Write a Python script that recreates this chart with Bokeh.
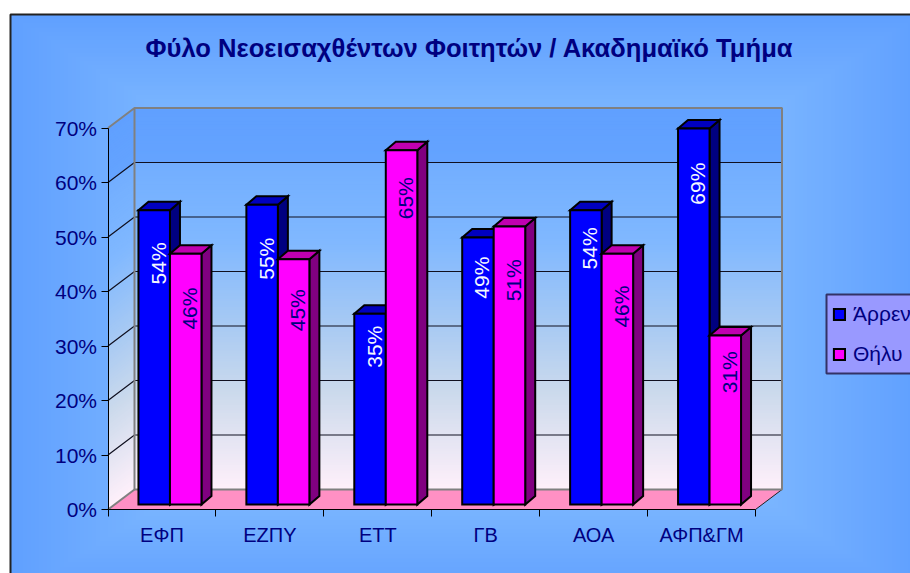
from bokeh.plotting import figure
from bokeh.embed import file_html
from bokeh.resources import INLINE
from bokeh.models import (LinearAxis, FixedTicker, PrintfTickFormatter, Range1d, Label,
                          Legend, LegendItem, ColumnDataSource)
from bokeh.core.properties import value
import numpy as np

# ---- data ----
categories = ["ΕΦΠ", "ΕΖΠΥ", "ΕΤΤ", "ΓΒ", "ΑΟΑ", "ΑΦΠ&ΓΜ"]
male = [54, 55, 35, 49, 54, 69]
female = [46, 45, 65, 51, 46, 31]
series_names = ["Άρρεν", "Θήλυ"]
title_text = "Φύλο Νεοεισαχθέντων Φοιτητών / Ακαδημαϊκό Τμήμα"
y_ticks = [0, 10, 20, 30, 40, 50, 60, 70]

# ---- layout ----
W, H = 910, 573
PAGE = 0
X0, Y0 = 107.5, 509.0          # picture px of the axes' origin
CW = (755 - 107.5) / 6         # px per category
VY = 54.5 / 10                 # px per percent
def dx(px): return px / CW
def dy(px): return px / VY
def X(px): return (px - X0) / CW
def Y(py): return (Y0 - py) / VY

WALL_DX, WALL_DY = dx(26.5), dy(20)
BAR_W = dx(31.5)
BAR_SHIFT_X, BAR_BASE = dx(8.0), dy(5)
BAR_DX, BAR_DY = dx(10), dy(8.5)
# the original's data labels sit irregularly on their bars: px offsets of each label
LABEL_NUDGE_M = [10, 10, 5, 1, -5, 0]
LABEL_NUDGE_F = [18, 15, -4, 13, 16, 12]
FONT = "Liberation Sans"
NAVY = "#000080"

p = figure(width=W, height=H, output_backend="svg", toolbar_location=None,
           x_range=Range1d(X(PAGE), X(PAGE + W)), y_range=Range1d(Y(PAGE + H), Y(PAGE)),
           x_axis_location=None, y_axis_location=None, min_border=0,
           outline_line_color=None, background_fill_color="white", border_fill_color="white")
p.xgrid.visible = False
p.ygrid.visible = False

# ---- panel gradient (rectangular, from the centre) ----
def lerp(stops, t):
    xs = [s[0] for s in stops]
    return [np.interp(t, xs, [s[1][k] for s in stops]) for k in range(3)]

nx, ny = 225, 140
yy, xx = np.mgrid[0:ny, 0:nx]
u = (xx + .5) / nx
v = (yy + .5) / ny
t = np.maximum(np.abs(u - .5) * 2, np.abs(v - .5) * 2)
t = np.clip((t - .6) / .4, 0, 1)
r = np.interp(t, [0, 1], [0x80, 0x60]); g = np.interp(t, [0, 1], [0xBA, 0xA0])
img = np.zeros((ny, nx), dtype=np.uint32)
view = img.view(dtype=np.uint8).reshape((ny, nx, 4))
view[..., 0] = r; view[..., 1] = g; view[..., 2] = 255; view[..., 3] = 255
px_l, px_t, px_r, px_b = 10, 14, 920, 600
p.image_rgba(image=[img], x=X(px_l), y=Y(px_b), dw=X(px_r) - X(px_l), dh=Y(px_t) - Y(px_b))
# panel border
p.line([X(px_l), X(px_l), X(px_r)], [Y(px_b), Y(px_t), Y(px_t)], line_color="#222222", line_width=2)

# ---- walls ----
stops = [(0, (0x60, 0xA0, 0xFF)), (.14, (0x64, 0xA3, 0xFF)), (.145, (0x72, 0xAE, 0xFF)),
         (.35, (0x80, 0xB8, 0xFF)), (.55, (0xA4, 0xC8, 0xF4)),
         (.75, (0xCC, 0xDA, 0xEC)), (1, (0xFF, 0xF0, 0xFA))]
top = y_ticks[-1]
n = 140
lv = np.linspace(0, top, n + 1)
xs_b, ys_b, xs_s, ys_s, cols = [], [], [], [], []
for a, b in zip(lv[:-1], lv[1:]):
    c = lerp(stops, 1 - (a + b) / 2 / top)
    cols.append("#%02x%02x%02x" % tuple(int(round(k)) for k in c))
    a2 = a - .3 if a > 0 else a   # strips overlap, so that no seams show
    xs_b.append([WALL_DX, 6 + WALL_DX, 6 + WALL_DX, WALL_DX])
    ys_b.append([a2 + WALL_DY, a2 + WALL_DY, b + WALL_DY, b + WALL_DY])
    xs_s.append([0, WALL_DX, WALL_DX, 0])
    ys_s.append([a2, a2 + WALL_DY, b + WALL_DY, b])
p.patches(xs_b[::-1], ys_b[::-1], fill_color=cols[::-1], line_color=None)
p.patches(xs_s[::-1], ys_s[::-1], fill_color=cols[::-1], line_color=None)
# floor
p.patch([0, WALL_DX, 6 + WALL_DX, 6], [0, WALL_DY, WALL_DY, 0], fill_color="#FF90C4", line_color=None)
# grid
gl = y_ticks[1:-1]
p.multi_line([[0, WALL_DX, 6 + WALL_DX] for _ in gl], [[g, g + WALL_DY, g + WALL_DY] for g in gl],
             line_color="#101020", line_width=1.2)
p.line([6, 6 + WALL_DX], [0, WALL_DY], line_color="#222222", line_width=1)
# grey wall outline
p.line([0, WALL_DX, 6 + WALL_DX, 6 + WALL_DX, WALL_DX, WALL_DX],
       [top, top + WALL_DY, top + WALL_DY, WALL_DY, WALL_DY, top + WALL_DY],
       line_color="#808080", line_width=2)
p.line([0, WALL_DX], [0, WALL_DY], line_color="#808080", line_width=2)

# legend box, drawn behind the legend's own rows
p.quad(left=[X(826)], right=[X(930)], top=[Y(294)], bottom=[Y(373)], fill_color="#9999FF",
       line_color="#333366", line_width=2)

# ---- bars ----
def bars(vals, side, c_front, c_top, c_side):
    L = [i + .5 + BAR_SHIFT_X + (-BAR_W if side == 0 else 0) for i in range(len(vals))]
    R = [l + BAR_W for l in L]
    B = [BAR_BASE] * len(vals)
    T = [BAR_BASE + w for w in vals]
    kw = dict(line_color="black", line_width=2, line_join="miter")
    p.patches([[r, r, r + BAR_DX, r + BAR_DX] for r in R],
              [[b, t, t + BAR_DY, b + BAR_DY] for b, t in zip(B, T)], fill_color=c_side, **kw)
    p.patches([[l, r, r + BAR_DX, l + BAR_DX] for l, r in zip(L, R)],
              [[t, t, t + BAR_DY, t + BAR_DY] for t in T], fill_color=c_top, **kw)
    return p.quad(left=L, right=R, bottom=B, top=T, fill_color=c_front, **kw)

r_m = bars(male, 0, "#0000FF", "#0000C0", NAVY)
r_f = bars(female, 1, "#FF00FF", "#C000B0", "#800080")

# ---- data labels ----
def labels(vals, side, color, nudge):
    xs = [i + .5 + BAR_SHIFT_X + (-BAR_W / 2 if side == 0 else BAR_W / 2) + dx(4) for i in range(len(vals))]
    ys = [BAR_BASE + w * (4.65 / 5.45) for w in vals]
    src = ColumnDataSource(dict(x=xs, y=ys, t=[f"{w}%" for w in vals], n=nudge))
    p.text("x", "y", text="t", source=src, angle=np.pi / 2, text_align="center", text_baseline="middle",
           y_offset="n", text_color=color, text_font=value(FONT), text_font_size="21px")
labels(male, 0, "#F4F8FF", LABEL_NUDGE_M)
labels(female, 1, NAVY, LABEL_NUDGE_F)

# ---- axes ----
ya = LinearAxis(fixed_location=0, bounds=(0, top), ticker=FixedTicker(ticks=y_ticks),
                formatter=PrintfTickFormatter(format="%d%%"))
ya.major_label_text_font = FONT
ya.major_label_text_font_size = "21px"
ya.major_label_text_color = NAVY
ya.major_label_standoff = 4
ya.major_tick_in = 0; ya.major_tick_out = 7
ya.minor_tick_line_color = None
ya.axis_line_color = "black"; ya.major_tick_line_color = "black"
p.add_layout(ya, "left")

pos = [i + .5 for i in range(len(categories))]
xa = LinearAxis(fixed_location=0, bounds=(0, len(categories)),
                ticker=FixedTicker(ticks=pos, minor_ticks=list(range(len(categories) + 1))),
                major_label_overrides={q: c for q, c in zip(pos, categories)})
xa.major_label_text_font = FONT
xa.major_label_text_font_size = "20px"
xa.major_label_text_color = NAVY
xa.major_label_standoff = 7
xa.major_tick_line_color = None
xa.major_tick_in = 0; xa.major_tick_out = 0
xa.minor_tick_in = 0; xa.minor_tick_out = 7
xa.minor_tick_line_color = "black"
xa.axis_line_color = "black"
p.add_layout(xa, "below")

# ---- title ----
p.add_layout(Label(x=X(469), y=Y(47), text=title_text, text_align="center", text_baseline="middle",
                   text_font=FONT, text_font_style="bold", text_font_size="25.6px", text_color=NAVY))

# ---- legend ----
leg = Legend(items=[LegendItem(label=series_names[0], renderers=[r_m]),
                    LegendItem(label=series_names[1], renderers=[r_f])],
             location=(832, 207), orientation="vertical", margin=0, padding=0, spacing=16,
             glyph_width=14, glyph_height=14, label_standoff=7,
             label_text_font=FONT, label_text_font_size="21px", label_text_color=NAVY,
             background_fill_alpha=0, border_line_color=None)
p.add_layout(leg, "center")

open("out.html", "w").write(file_html(p, INLINE))
